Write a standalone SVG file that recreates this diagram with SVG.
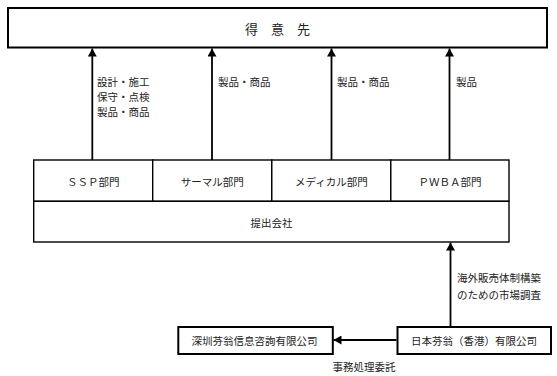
<svg xmlns="http://www.w3.org/2000/svg" width="557" height="376" viewBox="0 0 557 376">
<style>
  text { font-family: "Noto Sans CJK JP", "Noto Sans", sans-serif; font-size: 10.5px; fill: #222; dominant-baseline: central; }
  .c { text-anchor: middle; }
  .box { fill: #fff; stroke: #000; }
  .thick { stroke-width: 2; }
  .thin { stroke-width: 1.4; }
  .conn { stroke: #000; stroke-width: 1.8; fill: none; }
</style>
<defs>
  <marker id="ah" markerWidth="8" markerHeight="9" refX="8" refY="4.5" orient="auto" markerUnits="userSpaceOnUse">
    <path d="M0,0 L8,4.5 L0,9 Z" fill="#000"/>
  </marker>
</defs>
<rect width="557" height="376" fill="#fff"/>

<g id="customer">
  <rect class="box thick" x="8" y="8" width="539" height="39.5"/>
  <text class="c" x="277.5" y="28" style="font-size:13px">得　意　先</text>
</g>

<g id="ssp">
  <rect class="box thin" x="33.7" y="160" width="119" height="41.3"/>
  <text class="c" x="93.2" y="181">ＳＳＰ部門</text>
</g>
<g id="thermal">
  <rect class="box thin" x="152.7" y="160" width="119.1" height="41.3"/>
  <text class="c" x="212.3" y="181">サーマル部門</text>
</g>
<g id="medical">
  <rect class="box thin" x="271.8" y="160" width="119" height="41.3"/>
  <text class="c" x="331.3" y="181">メディカル部門</text>
</g>
<g id="pwba">
  <rect class="box thin" x="390.8" y="160" width="118.2" height="41.3"/>
  <text class="c" x="449.9" y="181">ＰＷＢＡ部門</text>
</g>
<g id="company">
  <rect class="box thin" x="33.7" y="201.3" width="475.3" height="40.7"/>
  <text class="c" x="271.4" y="222">提出会社</text>
</g>

<g id="shenzhen">
  <rect class="box thick" x="178.3" y="327" width="154.5" height="27"/>
  <text class="c" x="254.5" y="340.5">深圳芬翁信息咨詢有限公司</text>
</g>
<g id="hongkong">
  <rect class="box thick" x="397.5" y="327" width="153.5" height="27"/>
  <text class="c" x="474" y="340.5">日本芬翁（香港）有限公司</text>
</g>

<g id="connectors">
  <line class="conn" x1="92.3" y1="160" x2="92.3" y2="48.5" marker-end="url(#ah)"/>
  <line class="conn" x1="212" y1="160" x2="212" y2="48.5" marker-end="url(#ah)"/>
  <line class="conn" x1="331.5" y1="160" x2="331.5" y2="48.5" marker-end="url(#ah)"/>
  <line class="conn" x1="449.5" y1="160" x2="449.5" y2="48.5" marker-end="url(#ah)"/>
  <line class="conn" x1="450.5" y1="326" x2="450.5" y2="242.5" marker-end="url(#ah)"/>
  <line class="conn" x1="396.5" y1="340" x2="333.5" y2="340" marker-end="url(#ah)"/>
</g>

<g id="labels">
  <text x="97" y="81">設計・施工</text>
  <text x="97" y="96">保守・点検</text>
  <text x="97" y="111">製品・商品</text>
  <text x="218" y="81">製品・商品</text>
  <text x="337" y="81">製品・商品</text>
  <text x="456" y="81">製品</text>
  <text x="457" y="277">海外販売体制構築</text>
  <text x="457" y="294">のための市場調査</text>
  <text class="c" x="364" y="366">事務処理委託</text>
</g>
</svg>
